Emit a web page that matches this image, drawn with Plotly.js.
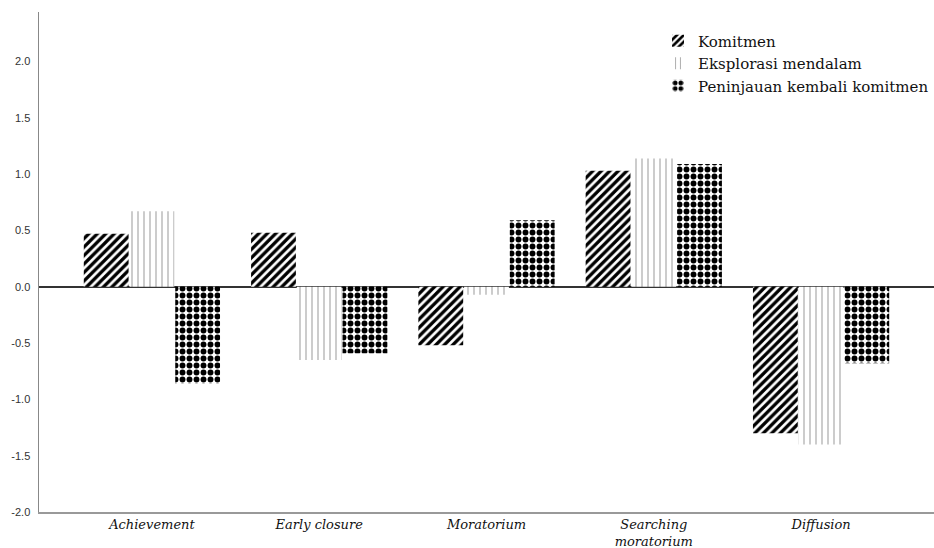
<!DOCTYPE html>
<html>
<head>
<meta charset="utf-8">
<script src="https://cdn.plot.ly/plotly-3.0.1.min.js"></script>
<style>html,body{margin:0;padding:0;background:#fff;}#chart{width:934px;height:548px;}</style>
</head>
<body>
<div id="chart"></div>
<script>
const categories = ['Achievement', 'Early closure', 'Moratorium', 'Searching<br>moratorium', 'Diffusion'];
const komitmen = [0.47, 0.48, -0.52, 1.03, -1.30];
const eksplorasi = [0.67, -0.65, -0.07, 1.14, -1.40];
const peninjauan = [-0.86, -0.59, 0.59, 1.09, -0.68];
const seriesNames = ['Komitmen', 'Eksplorasi mendalam', 'Peninjauan kembali komitmen'];
const yTickVals = [-2.0, -1.5, -1.0, -0.5, 0.0, 0.5, 1.0, 1.5, 2.0];
const yTickText = ['-2.0', '-1.5', '-1.0', '-0.5', '0.0', '0.5', '1.0', '1.5', '2.0'];

const traces = [
  {
    type: 'bar', name: seriesNames[0], x: categories, y: komitmen,
    marker: { color: 'white', line: { width: 0 },
      pattern: { shape: '/', fgcolor: '#000', bgcolor: '#fff', size: 6, solidity: 0.55, fillmode: 'replace' } }
  },
  {
    type: 'bar', name: seriesNames[1], x: categories, y: eksplorasi,
    marker: { color: 'white', line: { width: 0 },
      pattern: { shape: '|', fgcolor: '#aaaaaa', bgcolor: '#fff', size: 6, solidity: 0.2, fillmode: 'replace' } }
  },
  {
    type: 'bar', name: seriesNames[2], x: categories, y: peninjauan,
    marker: { color: 'white', line: { width: 0 },
      pattern: { shape: '.', fgcolor: '#000', bgcolor: '#fff', size: 7, solidity: 0.55, fillmode: 'replace' } }
  }
];

const layout = {
  width: 934, height: 548,
  margin: { l: 39, r: 0, t: 12, b: 36 },
  paper_bgcolor: '#fff', plot_bgcolor: '#fff',
  barmode: 'group', bargap: 0.18, bargroupgap: 0.02,
  showlegend: true,
  legend: {
    x: 1, xanchor: 'right', y: 0.975, yanchor: 'top',
    font: { family: 'DejaVu Serif', size: 15, color: '#111' },
    bgcolor: 'rgba(0,0,0,0)', tracegroupgap: 0
  },
  xaxis: {
    type: 'category', range: [-0.675, 4.675],
    showline: true, linecolor: '#999', linewidth: 1.5, mirror: false,
    ticks: '', showgrid: false, zeroline: false,
    ticklabelstandoff: 0,
    tickfont: { family: 'DejaVu Serif', size: 13, color: '#111', style: 'italic' }
  },
  yaxis: {
    range: [-2, 2.44], tickvals: yTickVals, ticktext: yTickText,
    showline: true, linecolor: '#888', linewidth: 1.5,
    ticks: 'outside', ticklen: 5, tickcolor: 'rgba(0,0,0,0)',
    showgrid: false, zeroline: true, zerolinecolor: '#333', zerolinewidth: 2,
    layer: 'above traces',
    tickfont: { family: 'Liberation Sans', size: 11, color: '#333' }
  }
};

Plotly.newPlot('chart', traces, layout, { displayModeBar: false, staticPlot: true });
</script>
</body>
</html>
